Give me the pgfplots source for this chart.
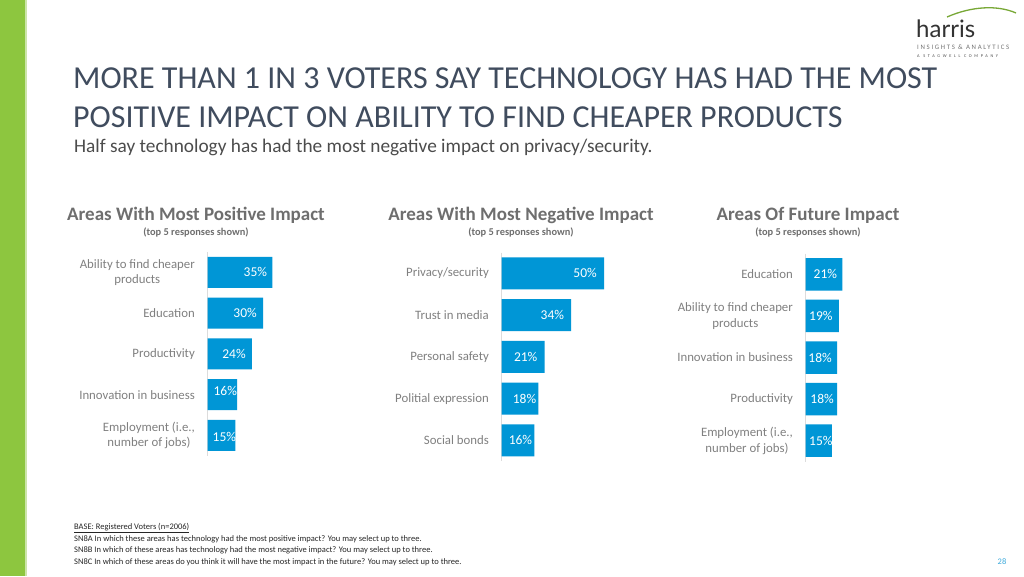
\documentclass[border=0pt]{standalone}
\usepackage{fontspec}
\setmainfont{Carlito}
\newfontfamily\logofont[LetterSpace=25]{Carlito}
\newfontfamily\logofontwide[LetterSpace=62]{Carlito}
\newfontfamily\harrisfont{Lato}
\usepackage{pgfplots}
\pgfplotsset{compat=1.18}
\definecolor{barblue}{RGB}{0,150,214}
\definecolor{labgray}{RGB}{128,128,128}
\definecolor{headgray}{RGB}{110,110,110}
\definecolor{titlecol}{RGB}{64,76,94}
\definecolor{greenbar}{RGB}{141,198,63}
\definecolor{axgray}{RGB}{220,220,220}
\definecolor{pagecol}{RGB}{60,170,220}
\pgfplotsset{
  panel/.style={
    xbar, scale only axis, y dir=reverse,
    ymin=-0.5, ymax=4.5, xmin=0,
    axis x line=none, axis y line=left,
    axis line style={-, draw=axgray, line width=0.8pt},
    ytick={0,1,2,3,4}, ytick style={draw=none},
    yticklabel style={align=center, text=labgray, font=\fontsize{12.8}{15.5}\selectfont, xshift=-7pt},
    /pgf/number format/assume math mode=true,
    clip=false,
    anchor=north west,
  },
  bars/.style={
    fill=barblue, draw=none, bar shift=0pt, bar width=#1,
    visualization depends on=\thisrow{off}\as\xoff,
    visualization depends on=\thisrow{yoff}\as\yoff,
    nodes near coords={\pgfmathprintnumber{\pgfplotspointmeta}\%},
    nodes near coords style={anchor=east, xshift=\xoff pt, yshift=\yoff pt, text=white, inner sep=0pt, font=\fontsize{13.5}{15}\selectfont},
  },
}
\begin{document}
\begin{tikzpicture}[x=1pt,y=-1pt]
\useasboundingbox (0,0) rectangle (1024,576);
\fill[white] (0,0) rectangle (1024,576);
\fill[greenbar] (0,0) rectangle (25,576);
\fill[greenbar!45] (25,0) rectangle (26.5,576);

% logo
\draw[greenbar!85!black, line width=1.3pt] (947,17) .. controls (972,6) and (998,5) .. (1016,13);
\node[anchor=base west, inner sep=0, text=black!80, font=\harrisfont\fontsize{24}{24}\selectfont] at (916,37) {harris};
\node[anchor=base west, inner sep=0, text=black!55, font=\logofont\fontsize{6.8}{7}\selectfont] at (917,49) {INSIGHTS \& ANALYTICS};
\node[anchor=base west, inner sep=0, text=black!70, font=\logofontwide\fontsize{4.3}{5}\selectfont] at (917,57) {A STAGWELL COMPANY};

% title
\node[anchor=base west, inner sep=0, text=titlecol, font=\fontsize{32}{38}\selectfont] at (73,88) {MORE THAN 1 IN 3 VOTERS SAY TECHNOLOGY HAS HAD THE MOST};
\node[anchor=base west, inner sep=0, text=titlecol, font=\fontsize{32}{38}\selectfont] at (73,127) {POSITIVE IMPACT ON ABILITY TO FIND CHEAPER PRODUCTS};
\node[anchor=base west, inner sep=0, text=black!70, font=\fontsize{19.3}{22}\selectfont] at (74,152) {Half say technology has had the most negative impact on privacy/security.};

% panel headings
\node[anchor=base, inner sep=0, text=headgray, font=\bfseries\fontsize{19}{22}\selectfont] at (196,220) {Areas With Most Positive Impact};
\node[anchor=base, inner sep=0, text=headgray, font=\bfseries\fontsize{10.4}{11}\selectfont] at (196,235) {(top 5 responses shown)};
\node[anchor=base, inner sep=0, text=headgray, font=\bfseries\fontsize{19}{22}\selectfont] at (521,220) {Areas With Most Negative Impact};
\node[anchor=base, inner sep=0, text=headgray, font=\bfseries\fontsize{10.4}{11}\selectfont] at (521,235) {(top 5 responses shown)};
\node[anchor=base, inner sep=0, text=headgray, font=\bfseries\fontsize{19}{22}\selectfont] at (808,220) {Areas Of Future Impact};
\node[anchor=base, inner sep=0, text=headgray, font=\bfseries\fontsize{10.4}{11}\selectfont] at (808,235) {(top 5 responses shown)};

% panel 1
\begin{axis}[panel, at={(207.5pt,-252pt)}, width=92.5pt, height=203.75pt, xmax=50,
  yticklabels={{Ability to find cheaper\\products}, Education, Productivity, Innovation in business, {Employment (i.e.,\\number of jobs)}}]
\addplot[bars=31pt] table {
v c off yoff
35 0 -5 0
30 1 -6 0
24 2 -6 0
16 3 0 3.5
15 4 1 -1.5
};
\end{axis}

% panel 2
\begin{axis}[panel, at={(501.5pt,-252.5pt)}, width=112.75pt, height=208.75pt, xmax=55,
  yticklabels={Privacy/security, Trust in media, Personal safety, Politial expression, Social bonds}]
\addplot[bars=32pt] table {
v c off yoff
50 0 -7 0
34 1 -7 0
21 2 -7 0
18 3 -2 0
16 4 -2 0
};
\end{axis}

% panel 3
\begin{axis}[panel, at={(805.5pt,-253.5pt)}, width=43.75pt, height=208pt, xmax=25,
  yticklabels={Education, {Ability to find cheaper\\products}, Innovation in business, Productivity, {Employment (i.e.,\\number of jobs)}}]
\addplot[bars=32.5pt] table {
v c off yoff
21 0 -5 0
19 1 -6 0
18 2 -5 0
18 3 -3 0
15 4 1 0
};
\end{axis}

% footnotes
\begin{scope}[every node/.style={anchor=base west, inner sep=0, text=black!85, font=\fontsize{8.5}{9}\selectfont}]
\node at (74,529) {\underline{BASE: Registered Voters (n=2006)}};
\node at (74,541) {SN8A In which these areas has technology had the most positive impact? You may select up to three.};
\node at (74,552) {SN8B In which of these areas has technology had the most negative impact? You may select up to three.};
\node at (74,564) {SN8C In which of these areas do you think it will have the most impact in the future? You may select up to three.};
\end{scope}
\node[anchor=base, inner sep=0, text=pagecol, font=\fontsize{8.5}{9}\selectfont] at (1002,564) {28};
\end{tikzpicture}
\end{document}
